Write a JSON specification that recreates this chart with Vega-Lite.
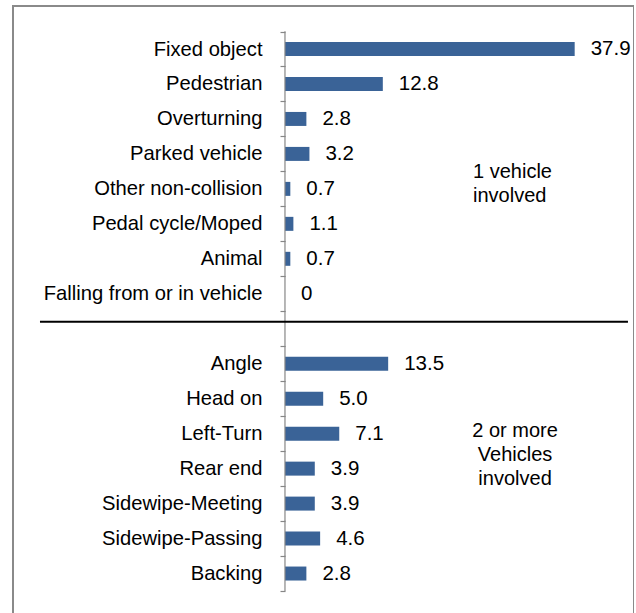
{
  "$schema": "https://vega.github.io/schema/vega-lite/v6.json",
  "width": 621,
  "height": 613,
  "autosize": {"type": "none"},
  "padding": {"left": 13, "top": 6, "right": 0, "bottom": 0},
  "background": "white",
  "config": {
    "view": {"stroke": "#8a8a8a", "strokeWidth": 2},
    "font": "Liberation Sans"
  },
  "datasets": {
    "bars": [
      {"cat": "Fixed object", "value": 37.9, "label": "37.9"},
      {"cat": "Pedestrian", "value": 12.8, "label": "12.8"},
      {"cat": "Overturning", "value": 2.8, "label": "2.8"},
      {"cat": "Parked vehicle", "value": 3.2, "label": "3.2"},
      {"cat": "Other non-collision", "value": 0.7, "label": "0.7"},
      {"cat": "Pedal cycle/Moped", "value": 1.1, "label": "1.1"},
      {"cat": "Animal", "value": 0.7, "label": "0.7"},
      {"cat": "Falling from or in vehicle", "value": 0, "label": "0"},
      {"cat": "Angle", "value": 13.5, "label": "13.5"},
      {"cat": "Head on", "value": 5.0, "label": "5.0"},
      {"cat": "Left-Turn", "value": 7.1, "label": "7.1"},
      {"cat": "Rear end", "value": 3.9, "label": "3.9"},
      {"cat": "Sidewipe-Meeting", "value": 3.9, "label": "3.9"},
      {"cat": "Sidewipe-Passing", "value": 4.6, "label": "4.6"},
      {"cat": "Backing", "value": 2.8, "label": "2.8"}
    ],
    "axiscats": [
      {"cat": "Fixed object"}, {"cat": "Pedestrian"}, {"cat": "Overturning"}, {"cat": "Parked vehicle"},
      {"cat": "Other non-collision"}, {"cat": "Pedal cycle/Moped"}, {"cat": "Animal"}, {"cat": "Falling from or in vehicle"},
      {"cat": " "}, {"cat": "Angle"}, {"cat": "Head on"}, {"cat": "Left-Turn"}, {"cat": "Rear end"},
      {"cat": "Sidewipe-Meeting"}, {"cat": "Sidewipe-Passing"}, {"cat": "Backing"}
    ],
    "separator": [{"cat": " ", "x1": -32.05, "x2": 44.87}],
    "note1": [{"cat": "Other non-collision", "x": 24.6, "t": "1 vehicle\ninvolved"}],
    "note2": [{"cat": "Left-Turn", "x": 30.1, "t": "2 or more\nVehicles\ninvolved"}]
  },
  "layer": [
    {
      "data": {"name": "bars"},
      "mark": {"type": "bar", "color": "#3A6397", "height": {"band": 0.4}},
      "encoding": {
        "y": {
          "field": "cat", "type": "nominal",
          "scale": {
            "domain": ["Fixed object", "Pedestrian", "Overturning", "Parked vehicle", "Other non-collision", "Pedal cycle/Moped", "Animal", "Falling from or in vehicle", " ", "Angle", "Head on", "Left-Turn", "Rear end", "Sidewipe-Meeting", "Sidewipe-Passing", "Backing"],
            "paddingInner": 0, "paddingOuter": 0.765, "align": 0.477
          },
          "axis": {
            "title": null, "offset": -272, "domain": false, "tickBand": "extent",
            "tickColor": "#868686", "tickSize": 5, "tickWidth": 1.2,
            "labelFontSize": 20.2, "labelFont": "Liberation Sans", "labelColor": "#000000",
            "labelPadding": 18, "labelLimit": 400
          }
        },
        "x": {"field": "value", "type": "quantitative", "scale": {"domain": [-35.58, 45.66], "nice": false, "zero": false}, "axis": null},
        "x2": {"datum": 0}
      }
    },
    {
      "data": {"name": "bars"},
      "mark": {"type": "text", "align": "left", "baseline": "middle", "dx": 16, "fontSize": 20.5, "font": "Liberation Sans", "color": "#000000"},
      "encoding": {
        "y": {"field": "cat", "type": "nominal"},
        "x": {"field": "value", "type": "quantitative"},
        "text": {"field": "label", "type": "nominal"}
      }
    },
    {
      "data": {"name": "axiscats"},
      "mark": {"type": "tick", "orient": "vertical", "color": "#868686", "thickness": 1.2, "size": 35.4, "opacity": 1},
      "encoding": {
        "y": {"field": "cat", "type": "nominal"},
        "x": {"datum": 0}
      }
    },
    {
      "data": {"name": "separator"},
      "mark": {"type": "rule", "color": "#000000", "strokeWidth": 2},
      "encoding": {
        "y": {"field": "cat", "type": "nominal", "bandPosition": 0.3},
        "x": {"field": "x1", "type": "quantitative"},
        "x2": {"field": "x2"}
      }
    },
    {
      "data": {"name": "note1"},
      "mark": {"type": "text", "align": "left", "baseline": "middle", "fontSize": 20, "font": "Liberation Sans", "lineBreak": "\n", "lineHeight": 24, "color": "#000000"},
      "encoding": {
        "y": {"field": "cat", "type": "nominal", "bandPosition": 0.02},
        "x": {"field": "x", "type": "quantitative"},
        "text": {"field": "t", "type": "nominal"}
      }
    },
    {
      "data": {"name": "note2"},
      "mark": {"type": "text", "align": "center", "baseline": "middle", "fontSize": 20, "font": "Liberation Sans", "lineBreak": "\n", "lineHeight": 24, "color": "#000000"},
      "encoding": {
        "y": {"field": "cat", "type": "nominal", "bandPosition": 0.42},
        "x": {"field": "x", "type": "quantitative"},
        "text": {"field": "t", "type": "nominal"}
      }
    }
  ]
}
